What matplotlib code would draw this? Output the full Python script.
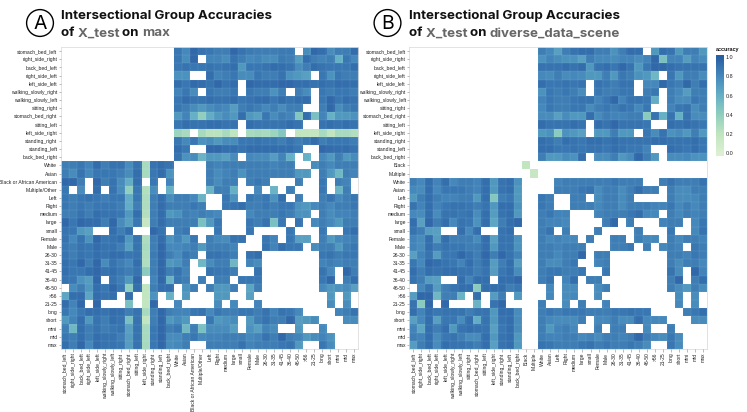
#!/usr/bin/env python3
# -*- coding: utf-8 -*-
"""Intersectional group accuracies, two heatmaps side by side."""
import numpy as np
import matplotlib
matplotlib.use("Agg")
import matplotlib.pyplot as plt
from matplotlib.colors import LinearSegmentedColormap
from matplotlib.patches import Circle

N = np.nan
W, H = 747, 412

activities = ["stomach_bed_left", "right_side_right", "back_bed_left", "right_side_left",
              "left_side_left", "walking_slowly_right", "walking_slowly_left", "sitting_right",
              "stomach_bed_right", "sitting_left", "left_side_right", "standing_right",
              "standing_left", "back_bed_right"]
groups_rest = ["Left", "Right", "medium", "large", "small", "Female", "Male", "26-30", "31-35",
               "41-45", "36-40", "46-50", ">56", "21-25", "long", "short", "mini", "mid", "max"]
labels_a = activities + ["White", "Asian", "Black or African American", "Multiple/Other"] + groups_rest
labels_b = activities + ["Black", "Multiple", "White", "Asian"] + groups_rest

# accuracy in percent, one list per row, N = no data
a_top = [
    [88,80,95,90,88,85,85,95,90,87,85,85,85,87,87,N,78,95,92,78,85,85,93],
    [88,78,95,N,82,82,78,90,85,80,82,78,78,87,85,70,92,85,82,85,60,88,80],
    [88,90,88,88,90,88,90,92,72,88,88,90,93,92,90,78,85,93,90,88,88,88,92],
    [75,75,N,N,92,82,85,88,78,78,88,85,85,90,75,72,68,N,88,75,88,85,85],
    [92,88,94,93,90,95,90,93,N,95,93,93,93,95,95,92,92,90,92,90,93,92,92],
    [82,88,78,N,88,85,85,88,N,88,85,85,75,85,N,85,78,N,88,85,88,88,85],
    [88,93,90,90,92,90,90,93,88,90,92,93,88,93,90,92,93,N,88,95,88,92,90],
    [88,85,78,72,78,82,80,70,85,88,85,80,85,78,85,85,N,N,85,95,78,85,88],
    [72,82,60,40,62,72,78,72,92,72,68,88,78,85,82,45,92,50,82,60,72,72,75],
    [88,92,90,90,92,92,90,90,N,92,90,90,90,90,93,90,N,N,90,92,90,92,90],
    [35,30,N,30,22,22,30,20,N,30,32,30,35,45,N,20,18,18,30,20,30,30,25],
    [88,80,88,75,78,72,78,78,88,88,90,88,88,85,90,85,88,93,85,88,88,88,85],
    [93,88,N,N,95,95,92,92,90,93,93,93,93,92,92,88,N,N,95,93,92,93,90],
    [90,75,78,58,72,72,68,78,N,80,78,78,70,82,60,N,60,N,80,72,85,72,78],
]
a_white = [85,85,88,82,93,85,90,90,78,90,30,90,93,90,N,N,N,N,85,82,85,85,85,85,85,85,82,85,85,N,N,78,85,80,85,85,85]
a_asian = [85,78,90,80,88,88,88,85,78,92,30,88,93,75,N,N,N,N,85,78,82,85,75,85,85,85,85,85,85,72,72,N,85,72,55,85,82]
a_black = [95,95,85,N,95,85,90,78,62,92,N,88,N,82,N,N,N,N,85,78,85,85,N,85,88,85,N,N,N,85,N,N,88,N,85,82,N]
a_multi = [88,N,78,N,93,N,90,78,40,88,25,78,N,60,N,N,N,N,58,85,85,60,N,N,80,N,58,N,85,N,N,N,88,N,58,85,N]
a_left = [88,85,88,90,88,85,88,88,62,88,28,85,92,78,85,85,80,58,N,N,88,75,N,88,85,88,75,92,N,85,N,N,85,90,80,85,88]
a_right = [88,85,88,85,88,88,88,85,62,85,28,85,93,85,85,85,88,85,N,N,88,90,92,85,85,88,85,88,88,75,72,80,85,80,85,85,88]
a_medium = [85,85,90,85,92,90,90,88,72,92,25,85,93,72,75,85,82,85,82,80,N,N,N,80,85,85,85,88,85,75,75,N,85,78,82,82,85]
a_large = [95,88,95,93,93,85,95,78,68,88,15,85,93,85,85,85,85,50,72,88,N,N,N,88,85,90,50,88,N,90,N,80,85,80,72,85,85]
a_small = [90,88,72,68,N,N,92,85,92,N,N,95,90,N,85,88,N,N,N,88,N,N,N,88,N,N,N,N,88,N,N,N,88,N,N,88,92]
a_female = [90,80,90,75,95,88,90,92,72,90,28,85,93,75,82,72,88,N,85,80,78,90,90,N,N,88,82,N,88,68,68,N,85,72,80,82,85]
a_male = [88,85,90,88,93,90,90,85,68,90,30,85,95,80,80,82,85,72,85,85,85,82,N,N,N,90,82,92,88,88,N,78,85,85,72,85,88]
a_2630 = [90,85,90,88,92,90,93,92,88,90,28,87,95,85,78,88,85,N,90,90,88,85,N,90,92,N,N,N,N,N,N,N,88,90,85,88,88]
a_3135 = [92,88,95,85,95,78,90,85,80,92,27,85,95,72,75,85,N,55,78,85,85,55,N,82,78,N,N,N,N,N,N,N,82,85,82,85,85]
a_4145 = [92,88,88,92,95,90,92,88,85,90,42,85,95,85,90,82,N,N,90,88,88,85,N,N,90,N,N,N,N,N,N,N,90,80,N,95,85]
a_3640 = [90,88,75,70,95,N,90,85,72,95,N,82,95,58,88,85,N,85,N,85,85,N,88,88,88,N,N,N,N,N,N,N,88,95,N,85,92]
a_4650 = [N,78,85,72,92,88,95,88,40,92,20,85,92,92,N,75,85,N,85,72,72,85,N,65,85,N,N,N,N,N,N,N,80,72,75,78,68]
a_56 = [65,92,93,65,93,90,92,N,92,N,18,75,N,60,N,72,N,N,N,72,72,N,N,68,N,N,N,N,N,N,N,N,N,72,N,72,N]
a_2125 = [93,82,95,N,95,N,N,N,50,N,20,95,N,N,80,N,N,N,N,78,N,80,N,N,82,N,N,N,N,N,N,N,N,78,N,78,N]
a_long = [88,80,88,92,92,90,93,92,85,90,30,85,95,85,82,82,88,90,80,88,85,85,88,88,85,90,82,90,88,80,N,N,N,N,82,85,90]
a_short = [72,82,92,72,90,85,92,90,50,90,18,85,95,72,78,72,N,N,88,72,75,78,N,72,85,90,85,85,95,70,72,78,N,N,N,78,78]
a_mini = [85,55,92,85,90,85,88,90,68,90,30,88,95,85,88,55,85,50,78,78,78,70,N,75,68,82,78,N,N,72,N,N,80,N,N,N,N]
a_mid = [88,85,92,85,92,90,90,85,70,90,30,88,95,78,78,85,88,80,82,82,85,85,85,80,82,90,85,95,85,82,72,78,82,75,N,N,N]
a_max = [92,85,95,80,93,90,90,88,70,90,30,88,95,78,80,85,N,N,85,85,85,85,90,82,85,85,85,88,90,72,N,N,88,78,N,N,N]

b_top = [
    [85,80,68,85,90,92,92,85,85,75,85,93,92,N,72,92,90,72,85,85,72],
    [75,82,78,75,75,68,85,80,80,78,82,82,78,82,95,50,82,82,70,82,78],
    [90,90,90,92,90,93,72,90,92,88,95,90,72,88,95,95,92,90,90,90,90],
    [80,78,85,78,80,78,72,72,85,72,88,85,75,72,55,N,88,72,85,85,78],
    [92,88,88,90,88,90,N,90,88,85,90,90,N,80,80,95,88,85,95,85,92],
    [75,88,85,88,85,78,N,88,85,85,88,88,N,85,88,N,85,80,70,85,85],
    [82,88,85,85,88,90,90,82,88,95,82,90,90,88,62,N,85,78,78,88,85],
    [80,88,85,85,88,88,78,85,88,85,90,88,80,88,N,N,82,88,90,78,85],
    [78,78,68,78,72,72,92,78,85,82,82,85,85,42,90,60,90,60,90,78,78],
    [93,90,90,90,92,90,N,92,90,95,90,90,90,88,N,N,92,90,92,90,88],
    [72,75,42,75,72,68,N,72,72,85,72,72,N,88,78,90,75,78,72,85,72],
    [92,90,85,92,90,88,92,92,90,93,90,90,90,90,92,92,90,90,90,92,88],
    [92,92,88,88,90,88,90,90,88,92,90,88,88,82,N,N,92,90,88,92,88],
    [85,72,72,78,75,92,N,78,78,85,72,78,95,85,72,N,78,78,80,75,75],
]
b_black = [20]
b_multiple = [15]
b_white = [85,80,92,82,92,80,85,85,82,92,72,90,92,75,N,N,N,N,82,85,85,85,85,85,85,88,85,85,85,N,N,85,90,85,85,85,90]
b_asian = [80,78,92,80,88,88,88,85,82,92,72,90,92,72,N,N,N,N,85,85,85,88,90,78,85,85,78,85,92,85,85,N,85,78,78,85,85]
b_left = [72,85,92,85,82,82,85,85,72,92,45,85,88,72,N,N,88,85,N,N,85,85,N,78,85,85,78,85,N,N,N,N,85,78,78,80,85]
b_right = [90,82,92,82,88,90,90,88,85,90,72,92,92,75,N,N,88,85,N,N,85,85,85,80,85,85,78,85,85,85,82,82,88,80,85,80,85]
b_medium = [80,78,92,78,90,90,88,90,78,92,70,90,92,72,N,N,85,88,82,82,N,N,N,82,85,85,85,88,92,80,80,N,85,80,85,82,85]
b_large = [92,68,95,85,92,80,90,88,75,92,65,85,92,95,N,N,85,82,82,80,N,N,N,N,85,95,N,85,N,N,N,82,85,85,N,80,88]
b_small = [90,85,70,68,N,N,92,80,92,N,N,90,92,N,N,N,85,90,N,85,N,N,N,85,N,N,N,N,85,N,N,N,88,N,N,80,90]
b_female = [82,78,92,70,92,85,85,85,78,92,68,90,90,75,N,N,85,80,82,80,80,N,85,N,N,85,85,N,85,80,80,N,85,80,85,85,82]
b_male = [82,78,92,85,90,88,88,85,85,92,72,90,90,75,N,N,85,85,82,85,85,85,N,N,N,85,85,88,N,85,N,80,85,82,N,88,85]
b_2630 = [68,82,90,70,88,88,95,90,85,95,85,95,90,82,N,N,85,85,80,85,85,95,N,85,85,N,N,N,N,N,N,N,85,85,82,88,85]
b_3135 = [88,80,95,92,90,88,82,92,85,92,70,85,92,70,N,N,85,78,78,85,88,N,N,82,85,N,N,N,N,N,N,N,85,78,85,85,80]
b_4145 = [92,85,92,90,92,92,90,90,85,90,70,88,92,78,N,N,85,88,88,85,85,88,N,N,88,N,N,N,N,N,N,N,90,78,N,95,82]
b_3640 = [90,85,70,68,N,N,92,82,92,92,N,92,92,95,N,N,85,90,N,82,92,N,85,85,N,N,N,N,N,N,N,N,85,95,N,85,92]
b_4650 = [N,80,90,70,85,90,92,92,42,92,92,92,85,88,N,N,N,80,N,78,78,N,N,78,85,N,N,N,N,N,N,N,85,78,72,85,78]
b_56 = [70,95,95,55,85,85,58,N,92,N,70,85,N,72,N,N,N,80,N,78,80,N,N,78,N,N,N,N,N,N,N,N,N,78,N,78,N]
b_2125 = [90,42,95,N,95,N,N,N,58,N,90,95,N,N,N,N,85,N,N,78,N,85,N,N,82,N,N,N,N,N,N,N,N,80,N,78,N]
b_long = [92,82,92,88,90,90,90,85,90,90,72,92,92,78,N,N,85,88,85,88,88,88,85,85,85,88,88,90,88,88,N,N,N,N,85,88,92]
b_short = [68,80,92,68,88,88,78,92,62,90,72,90,92,78,N,N,85,80,78,78,78,85,N,80,80,85,78,78,92,80,80,80,N,N,N,78,78]
b_mini = [82,65,92,85,92,72,90,92,90,90,68,88,92,78,N,N,85,72,82,85,80,N,N,85,N,85,85,N,N,80,N,N,85,N,N,N,N]
b_mid = [85,82,92,78,88,90,85,78,78,92,72,90,92,72,N,N,85,82,82,85,85,80,82,78,85,85,82,85,95,85,80,78,88,78,N,N,N]
b_max = [70,85,92,78,92,90,90,88,85,92,68,90,92,72,N,N,90,88,85,85,85,88,90,85,88,85,85,88,85,78,N,N,88,78,N,N,N]

legend_ticks = [0.0, 0.2, 0.4, 0.6, 0.8, 1.0]

matrix_a = np.array([[N] * 14 + r for r in a_top]
                    + [a_white, a_asian, a_black, a_multi, a_left, a_right, a_medium, a_large, a_small,
                       a_female, a_male, a_2630, a_3135, a_4145, a_3640, a_4650, a_56, a_2125,
                       a_long, a_short, a_mini, a_mid, a_max], dtype=float) / 100
matrix_b = np.array([[N] * 16 + r for r in b_top]
                    + [[N] * 14 + b_black + [N] * 22, [N] * 15 + b_multiple + [N] * 21]
                    + [b_white, b_asian, b_left, b_right, b_medium, b_large, b_small,
                       b_female, b_male, b_2630, b_3135, b_4145, b_3640, b_4650, b_56, b_2125,
                       b_long, b_short, b_mini, b_mid, b_max], dtype=float) / 100

cmap = LinearSegmentedColormap.from_list(
    "acc", ["#dcf0d2", "#c0e5bf", "#90cfbf", "#66b0c6", "#4589bc", "#2a5fa4"])

fig = plt.figure(figsize=(W / 100, H / 100), dpi=100)
plt.rcParams["font.family"] = ["Liberation Sans", "DejaVu Sans"]

label_size = 3.6


def px_axes(x0, y0, x1, y1):
    """Axes from pixel box, y counted from the top."""
    return fig.add_axes([x0 / W, 1 - y1 / H, (x1 - x0) / W, (y1 - y0) / H])


def heatmap(box, matrix, labels):
    ax = px_axes(*box)
    n = len(labels)
    ax.imshow(np.ma.masked_invalid(matrix), cmap=cmap, vmin=0, vmax=1, aspect="auto",
              interpolation="nearest", extent=[0, n, n, 0])
    ax.set_xticks(np.arange(n) + 0.5)
    ax.set_yticks(np.arange(n) + 0.5)
    ax.set_xticklabels(labels, rotation=90, fontsize=label_size, color="#222222")
    ax.set_yticklabels(labels, fontsize=label_size, color="#222222")
    ax.tick_params(length=1.8, width=0.4, color="#888888", pad=0.8)
    # faint light lines between the cells
    ax.set_xticks(np.arange(n + 1), minor=True)
    ax.set_yticks(np.arange(n + 1), minor=True)
    ax.tick_params(which="minor", length=0)
    ax.grid(which="minor", color="white", alpha=0.18, linewidth=0.3)
    ax.set_axisbelow(False)
    for s in ax.spines.values():
        s.set_color("#dddddd")
        s.set_linewidth(0.6)
    return ax


def title_line(x, y, parts):
    """Draw pieces of one line next to each other, with their own colours."""
    r = fig.canvas.get_renderer()
    for txt, col in parts:
        t = fig.text(x / W, 1 - y / H, txt, color=col, fontsize=9.6, fontweight="bold",
                     family="Inter", va="baseline", ha="left")
        x += t.get_window_extent(r).width


heatmap((61, 47, 358.3, 349), matrix_a, labels_a)
heatmap((409.3, 47, 707.3, 349), matrix_b, labels_b)

# titles and the round letters
over = fig.add_axes([0, 0, 1, 1], facecolor="none")
over.set_xlim(0, W)
over.set_ylim(H, 0)
over.axis("off")
for cx, letter in [(40, "A"), (387.5, "B")]:
    over.add_patch(Circle((cx, 23), 13.4, fill=False, edgecolor="black", linewidth=1.0))
    over.text(cx, 23.5, letter, fontsize=14, family="Inter", ha="center", va="center", color="black")

black, grey = "#111111", "#666666"
title_line(61, 19.5, [("Intersectional Group Accuracies", black)])
title_line(61, 36.5, [("of ", black), ("X_test ", grey), ("on ", black), ("max", grey)])
title_line(409, 19.5, [("Intersectional Group Accuracies", black)])
title_line(409, 36.5, [("of ", black), ("X_test ", grey), ("on ", black), ("diverse_data_scene", grey)])

# legend
cax = px_axes(716, 55.3, 724, 156)
cax.imshow(np.linspace(1.02, -0.03, 256)[:, None], cmap=cmap, vmin=0, vmax=1, aspect="auto",
           extent=[0, 1, -0.03, 1.02])
cax.set_xticks([])
cax.yaxis.tick_right()
cax.set_yticks(legend_ticks)
cax.set_yticklabels([f"{v:.1f}" for v in legend_ticks], fontsize=3.9, color="#222222")
cax.tick_params(length=0, pad=1)
for s in cax.spines.values():
    s.set_visible(False)
fig.text(716 / W, 1 - 51 / H, "accuracy", fontsize=3.9, fontweight="bold", color="#111111")

fig.savefig("out.png", dpi=100)
